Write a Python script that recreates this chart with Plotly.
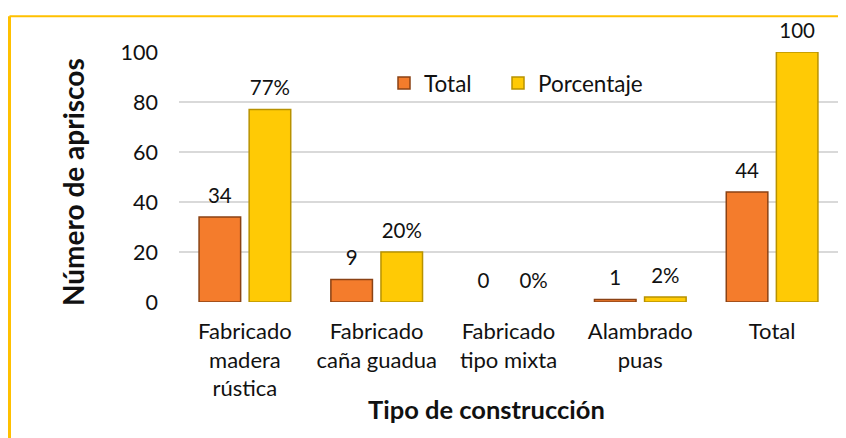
import plotly.graph_objects as go

categories = ["Fabricado<br>madera<br>rústica", "Fabricado<br>caña guadua", "Fabricado<br>tipo mixta", "Alambrado<br>puas", "Total"]
total_values = [34, 9, 0, 1, 44]
total_labels = ["34", "9", "0", "1", "44"]
pct_values = [77, 20, 0, 2, 100]
pct_labels = ["77%", "20%", "0%", "2%", "100"]
y_ticks = [0, 20, 40, 60, 80, 100]

FONT = "Lato"
OFF = 8  # page body margin in the browser
W, H = 846 - OFF, 438 - OFF
ML, MT = 179 - OFF, 51.5 - OFF
PR, PB = 838 - OFF, 302.5 - OFF
MR, MB = W - PR, H - PB
pw = W - ML - MR
ph = H - MT - MB

def sx(x):
    """screen x (reference pixels) -> paper x"""
    return (x - OFF - ML) / pw

def sy(y):
    """screen y (reference pixels) -> paper y"""
    return (H - MB - (y - OFF)) / ph

fig = go.Figure()
fig.add_trace(go.Bar(
    x=categories, y=total_values, name="Total", legend="legend", offsetgroup="t",
    marker=dict(color="#F47C2C",
                line=dict(color="#8A4214", width=[1.5 if v > 0 else 0 for v in total_values])),
))
fig.add_trace(go.Bar(
    x=categories, y=pct_values, name="Porcentaje", legend="legend2", offsetgroup="p",
    marker=dict(color="#FFCA05",
                line=dict(color="#B89200", width=[1.5 if v > 0 else 0 for v in pct_values])),
))
# data labels, placed above each bar
for vals, labels, grp in [(total_values, total_labels, "t"), (pct_values, pct_labels, "p")]:
    fig.add_trace(go.Scatter(
        x=categories, y=vals, text=labels, mode="markers+text", textposition="top center",
        offsetgroup=grp, cliponaxis=False, showlegend=False, hoverinfo="skip",
        marker=dict(size=13, opacity=0),
        textfont=dict(family=FONT, size=20.5, color="#111111"),
    ))

legend_common = dict(orientation="h", xanchor="left", yanchor="middle",
                     font=dict(family=FONT, size=22.5, color="#111111"),
                     bgcolor="rgba(0,0,0,0)", itemwidth=30)

fig.update_layout(
    width=W, height=H,
    margin=dict(l=ML, r=MR, t=MT, b=MB),
    paper_bgcolor="white", plot_bgcolor="white",
    barmode="group", bargap=0.24, bargroupgap=0.17,
    scattermode="group", scattergap=0.24,
    font=dict(family=FONT, size=20.5, color="#111111"),
    showlegend=True,
    legend=dict(x=sx(384), y=sy(83), **legend_common),
    legend2=dict(x=sx(498), y=sy(83), **legend_common),
    xaxis=dict(showgrid=False, showline=False, ticks="", automargin=False,
               tickfont=dict(family=FONT, size=22), ticklabelstandoff=14),
    yaxis=dict(range=[0, 100], tickvals=y_ticks, showgrid=True, gridcolor="#D9D9D9", gridwidth=2,
               zeroline=False, showline=False, ticks="", automargin=False,
               tickfont=dict(family=FONT, size=21.5), ticklabelstandoff=20),
    annotations=[
        dict(text="<b>Tipo de construcción</b>", xref="paper", yref="paper",
             x=sx(486), y=sy(410), xanchor="center", yanchor="middle", showarrow=False,
             font=dict(family=FONT, size=25.5, color="#111111")),
        dict(text="<b>Número de apriscos</b>", xref="paper", yref="paper", textangle=-90,
             x=sx(73), y=sy(182), xanchor="center", yanchor="middle", showarrow=False,
             font=dict(family=FONT, size=28, color="#111111")),
    ],
    shapes=[
        dict(type="line", xref="paper", yref="paper", x0=sx(9.5), x1=sx(846 + 10), y0=sy(15.5), y1=sy(15.5),
             line=dict(color="#FFC000", width=2), layer="above"),
        dict(type="line", xref="paper", yref="paper", x0=sx(9.5), x1=sx(9.5), y0=sy(15.5), y1=sy(438 + 10),
             line=dict(color="#FFC000", width=3), layer="above"),
    ],
)

fig.write_html("out.html")
